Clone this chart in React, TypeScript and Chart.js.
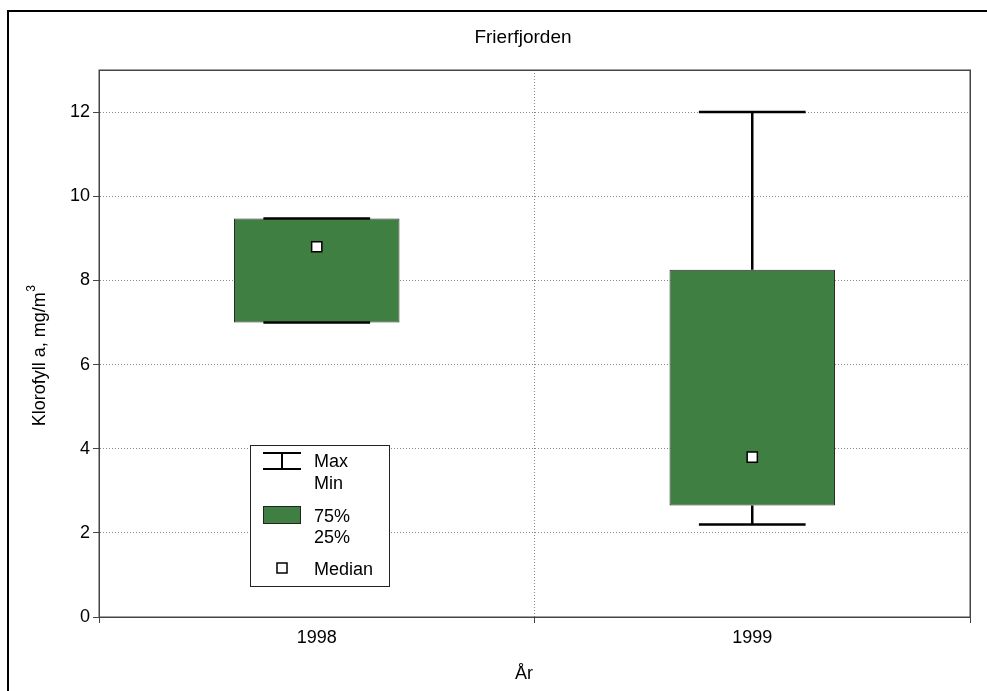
import React, { useEffect, useRef } from 'react';
import { Chart, registerables } from 'chart.js';

Chart.register(...registerables);

// ---- data ----
const categories = ['1998', '1999'];
const minValues = [7.0, 2.2];
const q1Values = [7.0, 2.65];
const medianValues = [8.8, 3.8];
const q3Values = [9.47, 8.25];
const maxValues = [9.47, 12.0];
const yTicks = [0, 2, 4, 6, 8, 10, 12];
const yMin = 0;
const yMax = 13;

const chartTitle = 'Frierfjorden';
const xTitle = 'År';
const yTitleMain = 'Klorofyll a, mg/m';
const yTitleSup = '3';
const legendLabels = ['Max', 'Min', '75%', '25%', 'Median'];

const FONT = '"Liberation Sans", Arial, Helvetica, sans-serif';
const GREEN = '#3f7f42';

const decorPlugin = {
  id: 'decor',
  beforeDraw(chart: any) {
    const ctx = chart.ctx;
    ctx.save();
    ctx.fillStyle = '#ffffff';
    ctx.fillRect(0, 0, chart.width, chart.height);
    // outer frame (extends beyond the picture at right and bottom)
    ctx.strokeStyle = '#000';
    ctx.lineWidth = 2;
    ctx.beginPath();
    ctx.moveTo(8, chart.height + 5);
    ctx.lineTo(8, 11);
    ctx.lineTo(chart.width + 5, 11);
    ctx.stroke();
    ctx.restore();
  },
  afterDatasetsDraw(chart: any) {
    const ctx = chart.ctx;
    const xs = chart.scales.x;
    const ys = chart.scales.y;
    const catW = xs.width / categories.length;
    const capHalf = catW * 0.245 / 2;
    ctx.save();
    ctx.strokeStyle = '#000';
    ctx.lineWidth = 2.5;
    for (let i = 0; i < categories.length; i++) {
      const x = xs.getPixelForValue(i);
      const yMaxP = ys.getPixelForValue(maxValues[i]);
      const yQ3 = ys.getPixelForValue(q3Values[i]);
      const yQ1 = ys.getPixelForValue(q1Values[i]);
      const yMinP = ys.getPixelForValue(minValues[i]);
      ctx.beginPath();
      ctx.moveTo(x, yMaxP);
      ctx.lineTo(x, yQ3);
      ctx.moveTo(x, yQ1);
      ctx.lineTo(x, yMinP);
      ctx.moveTo(x - capHalf, yMaxP);
      ctx.lineTo(x + capHalf, yMaxP);
      ctx.moveTo(x - capHalf, yMinP);
      ctx.lineTo(x + capHalf, yMinP);
      ctx.stroke();
    }
    ctx.restore();
  },
  afterDraw(chart: any) {
    const ctx = chart.ctx;
    const ca = chart.chartArea;
    ctx.save();
    // plot frame
    ctx.strokeStyle = '#444';
    ctx.lineWidth = 1.5;
    ctx.strokeRect(Math.round(ca.left) + 0.25, Math.round(ca.top) + 0.25, Math.round(ca.right - ca.left), Math.round(ca.bottom - ca.top));

    // titles
    ctx.fillStyle = '#000';
    ctx.font = `19px ${FONT}`;
    ctx.textAlign = 'center';
    ctx.textBaseline = 'alphabetic';
    ctx.fillText(chartTitle, 523, 43);
    ctx.font = `18px ${FONT}`;
    ctx.fillText(xTitle, 524, 679);

    // y title, rotated, with superscript
    ctx.save();
    ctx.translate(40, 356);
    ctx.rotate(-Math.PI / 2);
    ctx.font = `18px ${FONT}`;
    const wMain = ctx.measureText(yTitleMain).width;
    ctx.font = `12px ${FONT}`;
    const wSup = ctx.measureText(yTitleSup).width;
    const start = -(wMain + wSup) / 2;
    ctx.textAlign = 'left';
    ctx.textBaseline = 'middle';
    ctx.font = `18px ${FONT}`;
    ctx.fillText(yTitleMain, start, 0);
    ctx.font = `12px ${FONT}`;
    ctx.fillText(yTitleSup, start + wMain + 0.5, -8);
    ctx.restore();

    // legend
    const lx = ca.left + 151;
    const ly = ca.top + 375;
    ctx.fillStyle = '#fff';
    ctx.fillRect(lx, ly, 139, 141);
    ctx.strokeStyle = '#222';
    ctx.lineWidth = 1;
    ctx.strokeRect(lx + 0.5, ly + 0.5, 139, 141);

    // whisker icon
    ctx.strokeStyle = '#000';
    ctx.lineWidth = 2;
    ctx.beginPath();
    ctx.moveTo(lx + 13, ly + 8);
    ctx.lineTo(lx + 51, ly + 8);
    ctx.moveTo(lx + 13, ly + 24);
    ctx.lineTo(lx + 51, ly + 24);
    ctx.moveTo(lx + 32, ly + 8);
    ctx.lineTo(lx + 32, ly + 24);
    ctx.stroke();

    // box icon
    ctx.fillStyle = GREEN;
    ctx.fillRect(lx + 13, ly + 61, 37, 17);
    ctx.strokeStyle = '#222';
    ctx.lineWidth = 1;
    ctx.strokeRect(lx + 13.5, ly + 61.5, 37, 17);

    // median icon
    ctx.fillStyle = '#fff';
    ctx.fillRect(lx + 27, ly + 118, 10, 10);
    ctx.strokeStyle = '#000';
    ctx.lineWidth = 1.5;
    ctx.strokeRect(lx + 27, ly + 118, 10, 10);

    ctx.fillStyle = '#000';
    ctx.font = `18px ${FONT}`;
    ctx.textAlign = 'left';
    ctx.textBaseline = 'middle';
    const tx = lx + 64;
    const ty = [17, 39, 72, 93, 125];
    legendLabels.forEach((t, i) => ctx.fillText(t, tx, ly + ty[i]));
    ctx.restore();
  },
};

export default function App() {
  const ref = useRef<HTMLCanvasElement | null>(null);
  useEffect(() => {
    if (!ref.current) return;
    const chart = new Chart(ref.current, {
      type: 'bar',
      data: {
        labels: categories,
        datasets: [
          {
            type: 'line',
            label: 'Median',
            data: medianValues,
            showLine: false,
            pointStyle: 'rect',
            pointRadius: 7.2,
            pointHoverRadius: 7.2,
            pointBackgroundColor: '#fff',
            pointBorderColor: '#000',
            pointBorderWidth: 1.5,
            order: 0,
          } as any,
          {
            type: 'bar',
            label: '25%-75%',
            data: q1Values.map((v, i) => [v, q3Values[i]]) as any,
            backgroundColor: GREEN,
            borderColor: '#2a2a2a',
            borderWidth: 1,
            borderSkipped: false,
            categoryPercentage: 1,
            barPercentage: 0.38,
            order: 1,
          } as any,
        ],
      },
      options: {
        responsive: false,
        animation: false,
        events: [],
        layout: { padding: { left: 0, top: 70, right: 17, bottom: 0 } },
        plugins: {
          legend: { display: false },
          title: { display: false },
          tooltip: { enabled: false },
        },
        scales: {
          x: {
            type: 'category',
            offset: true,
            grid: {
              offset: true,
              color: '#888',
              lineWidth: 1,
              tickLength: 6,
              tickColor: '#444',
              drawOnChartArea: true,
            },
            border: { display: true, color: '#444', dash: [1, 2] },
            ticks: {
              color: '#000',
              font: { family: FONT, size: 18 },
              padding: 4,
              maxRotation: 0,
            },
            afterFit: (s: any) => {
              s.height = 74;
            },
          },
          y: {
            type: 'linear',
            min: yMin,
            max: yMax,
            grid: {
              color: '#888',
              lineWidth: 1,
              tickLength: 6,
              tickColor: '#444',
            },
            border: { display: true, color: '#444', dash: [1, 2] },
            ticks: {
              color: '#000',
              font: { family: FONT, size: 18 },
              padding: 3,
            },
            afterBuildTicks: (s: any) => {
              s.ticks = yTicks.map((v) => ({ value: v }));
            },
            afterFit: (s: any) => {
              s.width = 99;
            },
          },
        },
      },
      plugins: [decorPlugin],
    });
    return () => chart.destroy();
  }, []);
  return (
    <canvas
      ref={ref}
      width={987}
      height={691}
      style={{ position: 'fixed', left: 0, top: 0, display: 'block' }}
    />
  );
}
